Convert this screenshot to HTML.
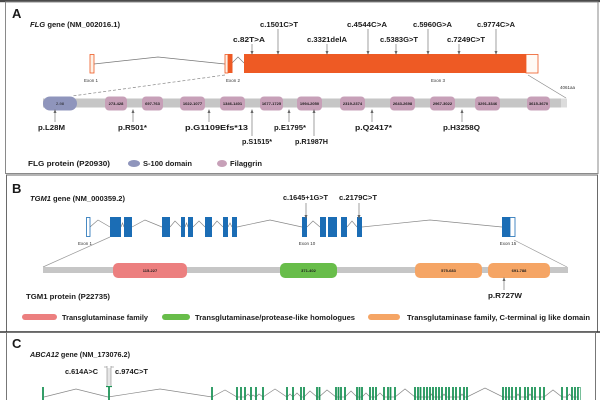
<!DOCTYPE html>
<html><head><meta charset="utf-8"><style>
html,body{margin:0;padding:0;background:#fff;}
svg{display:block;}
text{font-family:"Liberation Sans",Arial,sans-serif;font-weight:bold;fill:#1a1a1a;}
.t{font-size:7.5px;}
.s{font-size:4.5px;font-weight:normal;fill:#333;}
.d{font-size:4px;font-weight:normal;}
.arr{stroke:#777;stroke-width:0.7;fill:none;}
</style></head><body>
<svg width="600" height="400" viewBox="0 0 600 400" xmlns="http://www.w3.org/2000/svg">
<defs>
<marker id="ah" markerWidth="4" markerHeight="4" refX="2" refY="2" orient="auto" markerUnits="userSpaceOnUse">
<path d="M0,0.5 L4,2 L0,3.5 z" fill="#666"/></marker>
</defs>
<rect x="0" y="0" width="600" height="400" fill="#fff"/>
<!-- panel borders -->
<rect x="0" y="0" width="600" height="2.2" fill="#4a4a4a"/>
<rect x="5.5" y="2" width="592.5" height="171.5" fill="none" stroke="#8a8a8a" stroke-width="1"/>
<rect x="6.5" y="175" width="591" height="157" fill="none" stroke="#6a6a6a" stroke-width="1"/>
<line x1="0" y1="332" x2="600" y2="332" stroke="#333" stroke-width="1.4"/>
<rect x="6.5" y="332.5" width="589" height="70" fill="none" stroke="#777" stroke-width="1"/>

<!-- ============ PANEL A ============ -->
<text x="12" y="18" style="font-size:13px">A</text>
<text x="30" y="27" class="t" textLength="90" lengthAdjust="spacingAndGlyphs"><tspan font-style="italic">FLG</tspan> gene (NM_002016.1)</text>

<!-- gene -->
<polyline points="94,64 158,57 225,64" fill="none" stroke="#777" stroke-width="0.7"/>
<polyline points="232,63 238,57 244,63" fill="none" stroke="#777" stroke-width="0.7"/>
<rect x="90" y="54.5" width="4" height="18.5" fill="#fdf1e6" stroke="#ee5a24" stroke-width="0.8"/>
<rect x="225" y="54.5" width="3" height="18.5" fill="#fdf1e6" stroke="#ee5a24" stroke-width="0.8"/>
<rect x="228" y="54" width="4.5" height="19" fill="#ee5a24"/>
<rect x="244" y="54" width="282" height="19" fill="#ee5a24"/>
<rect x="526" y="54.5" width="12" height="18.5" fill="#fffaf5" stroke="#ee5a24" stroke-width="0.8"/>
<text x="91" y="82" class="s" text-anchor="middle">Exon 1</text>
<text x="233" y="82" class="s" text-anchor="middle">Exon 2</text>
<text x="438" y="82" class="s" text-anchor="middle">Exon 3</text>
<text x="560" y="89" class="s">4061aa</text>

<!-- gene mutations -->
<text x="260" y="27" class="t" textLength="38" lengthAdjust="spacingAndGlyphs">c.1501C&gt;T</text>
<text x="233" y="42" class="t" textLength="32" lengthAdjust="spacingAndGlyphs">c.82T&gt;A</text>
<text x="307" y="42" class="t" textLength="40" lengthAdjust="spacingAndGlyphs">c.3321delA</text>
<text x="347" y="27" class="t" textLength="40" lengthAdjust="spacingAndGlyphs">c.4544C&gt;A</text>
<text x="380" y="42" class="t" textLength="38" lengthAdjust="spacingAndGlyphs">c.5383G&gt;T</text>
<text x="413" y="27" class="t" textLength="39" lengthAdjust="spacingAndGlyphs">c.5960G&gt;A</text>
<text x="447" y="42" class="t" textLength="38" lengthAdjust="spacingAndGlyphs">c.7249C&gt;T</text>
<text x="477" y="27" class="t" textLength="38" lengthAdjust="spacingAndGlyphs">c.9774C&gt;A</text>
<line x1="278" y1="29" x2="278" y2="53" class="arr" marker-end="url(#ah)"/>
<line x1="252" y1="44" x2="252" y2="53" class="arr" marker-end="url(#ah)"/>
<line x1="327" y1="44" x2="327" y2="53" class="arr" marker-end="url(#ah)"/>
<line x1="368" y1="29" x2="368" y2="53" class="arr" marker-end="url(#ah)"/>
<line x1="396" y1="44" x2="396" y2="53" class="arr" marker-end="url(#ah)"/>
<line x1="428" y1="29" x2="428" y2="53" class="arr" marker-end="url(#ah)"/>
<line x1="459" y1="44" x2="459" y2="53" class="arr" marker-end="url(#ah)"/>
<line x1="496" y1="29" x2="496" y2="53" class="arr" marker-end="url(#ah)"/>

<!-- connectors gene->protein -->
<line x1="225" y1="75" x2="72" y2="96" stroke="#888" stroke-width="0.7" stroke-dasharray="3,2"/>
<line x1="528" y1="75" x2="566" y2="98" stroke="#888" stroke-width="0.7"/>

<!-- protein A -->
<rect x="43" y="98.5" width="518" height="9" fill="#c6c6c6"/>
<rect x="561" y="98.5" width="6" height="9" fill="#dcdcdc"/>
<rect x="43" y="96.5" width="34" height="14" rx="7" fill="#8f95bc"/>
<text x="60" y="105" class="d" text-anchor="middle" fill="#223">2-98</text>
<g fill="#c7a0b8">
<rect x="105" y="96.5" width="22" height="14" rx="4"/>
<rect x="142" y="96.5" width="21" height="14" rx="4"/>
<rect x="180" y="96.5" width="25" height="14" rx="4"/>
<rect x="220" y="96.5" width="25" height="14" rx="4"/>
<rect x="260" y="96.5" width="23" height="14" rx="4"/>
<rect x="297" y="96.5" width="25" height="14" rx="4"/>
<rect x="340" y="96.5" width="25" height="14" rx="4"/>
<rect x="390" y="96.5" width="25" height="14" rx="4"/>
<rect x="430" y="96.5" width="25" height="14" rx="4"/>
<rect x="475" y="96.5" width="25" height="14" rx="4"/>
<rect x="527" y="96.5" width="23" height="14" rx="4"/>
</g>
<g text-anchor="middle" style="font-size:4px;font-weight:normal;fill:#5a2148">
<text x="116" y="105">273-428</text>
<text x="152.5" y="105">697-763</text>
<text x="192.5" y="105">1022-1077</text>
<text x="232.5" y="105">1346-1401</text>
<text x="271.5" y="105">1677-1725</text>
<text x="309.5" y="105">1994-2050</text>
<text x="352.5" y="105">2319-2374</text>
<text x="402.5" y="105">2643-2698</text>
<text x="442.5" y="105">2967-3022</text>
<text x="487.5" y="105">3291-3346</text>
<text x="538.5" y="105">3615-3670</text>
</g>

<!-- protein mutations -->
<line x1="55" y1="122" x2="55" y2="111" class="arr" marker-end="url(#ah)"/>
<line x1="133" y1="122" x2="133" y2="111" class="arr" marker-end="url(#ah)"/>
<line x1="209" y1="122" x2="209" y2="111" class="arr" marker-end="url(#ah)"/>
<line x1="252" y1="136" x2="252" y2="111" class="arr" marker-end="url(#ah)"/>
<line x1="289" y1="122" x2="289" y2="111" class="arr" marker-end="url(#ah)"/>
<line x1="314" y1="136" x2="314" y2="111" class="arr" marker-end="url(#ah)"/>
<line x1="372" y1="122" x2="372" y2="111" class="arr" marker-end="url(#ah)"/>
<line x1="462" y1="122" x2="462" y2="111" class="arr" marker-end="url(#ah)"/>
<text x="38" y="130" class="t" textLength="27" lengthAdjust="spacingAndGlyphs">p.L28M</text>
<text x="118" y="130" class="t" textLength="29" lengthAdjust="spacingAndGlyphs">p.R501*</text>
<text x="185" y="130" class="t" textLength="63" lengthAdjust="spacingAndGlyphs">p.G1109Efs*13</text>
<text x="242" y="144" class="t" textLength="30" lengthAdjust="spacingAndGlyphs">p.S1515*</text>
<text x="274" y="130" class="t" textLength="32" lengthAdjust="spacingAndGlyphs">p.E1795*</text>
<text x="295" y="144" class="t" textLength="33" lengthAdjust="spacingAndGlyphs">p.R1987H</text>
<text x="355" y="130" class="t" textLength="37" lengthAdjust="spacingAndGlyphs">p.Q2417*</text>
<text x="443" y="130" class="t" textLength="37" lengthAdjust="spacingAndGlyphs">p.H3258Q</text>

<!-- legend A -->
<text x="28" y="166" class="t" textLength="82" lengthAdjust="spacingAndGlyphs">FLG protein (P20930)</text>
<ellipse cx="134" cy="163.5" rx="6" ry="3.5" fill="#8f95bc"/>
<text x="143" y="166" class="t" textLength="49" lengthAdjust="spacingAndGlyphs">S-100 domain</text>
<ellipse cx="222" cy="163.5" rx="5" ry="3.5" fill="#c7a0b8"/>
<text x="230" y="166" class="t" textLength="32" lengthAdjust="spacingAndGlyphs">Filaggrin</text>

<!-- ============ PANEL B ============ -->
<text x="12" y="193" style="font-size:13px">B</text>
<text x="30" y="201" class="t" textLength="95" lengthAdjust="spacingAndGlyphs"><tspan font-style="italic">TGM1</tspan> gene (NM_000359.2)</text>

<g fill="none" stroke="#888" stroke-width="0.7">
<polyline points="90,227 98,220 110,227"/>
<polyline points="121,227 122.5,223 124,227"/>
<polyline points="132,227 145,220 162,227"/>
<polyline points="170,227 175,221 181,227"/>
<polyline points="185,227 186.5,223 188,227"/>
<polyline points="193,227 199,221 205,227"/>
<polyline points="212,227 217,221 223,227"/>
<polyline points="228,227 230,223 232,227"/>
<polyline points="237,227 270,220 302,227"/>
<polyline points="307,227 313,221 320,227"/>
<polyline points="347,227 352,221 357,227"/>
<polyline points="362,227 430,220 502,227"/>
</g>
<g fill="#1b6db5">
<rect x="110" y="217" width="11" height="20"/>
<rect x="124" y="217" width="8" height="20"/>
<rect x="162" y="217" width="8" height="20"/>
<rect x="181" y="217" width="4" height="20"/>
<rect x="188" y="217" width="5" height="20"/>
<rect x="205" y="217" width="7" height="20"/>
<rect x="223" y="217" width="5" height="20"/>
<rect x="232" y="217" width="5" height="20"/>
<rect x="302" y="217" width="5" height="20"/>
<rect x="320" y="217" width="6" height="20"/>
<rect x="328" y="217" width="9" height="20"/>
<rect x="341" y="217" width="6" height="20"/>
<rect x="357" y="217" width="5" height="20"/>
<rect x="502" y="217" width="8" height="20"/>
</g>
<rect x="86.5" y="217.5" width="3.5" height="19" fill="#fff" stroke="#1b6db5" stroke-width="0.8"/>
<rect x="510" y="217.5" width="5" height="19" fill="#fff" stroke="#1b6db5" stroke-width="0.8"/>
<text x="85" y="245" class="s" text-anchor="middle">Exon 1</text>
<text x="307" y="245" class="s" text-anchor="middle">Exon 10</text>
<text x="508" y="245" class="s" text-anchor="middle">Exon 15</text>

<text x="283" y="200" class="t" textLength="45" lengthAdjust="spacingAndGlyphs">c.1645+1G&gt;T</text>
<text x="339" y="200" class="t" textLength="38" lengthAdjust="spacingAndGlyphs">c.2179C&gt;T</text>
<line x1="306" y1="203" x2="306" y2="217" class="arr" marker-end="url(#ah)"/>
<line x1="359" y1="203" x2="359" y2="217" class="arr" marker-end="url(#ah)"/>

<line x1="110" y1="237" x2="43" y2="267" stroke="#999" stroke-width="0.7"/>
<line x1="514" y1="240" x2="567" y2="267" stroke="#999" stroke-width="0.7"/>

<rect x="43" y="267" width="525" height="6" fill="#c6c6c6"/>
<rect x="113" y="263" width="74" height="15" rx="5" fill="#ec7f7f"/>
<rect x="280" y="263" width="57" height="15" rx="5" fill="#68bd4a"/>
<rect x="415" y="263" width="67" height="15" rx="5" fill="#f5a565"/>
<rect x="488" y="263" width="62" height="15" rx="5" fill="#f5a565"/>
<g style="font-size:4px;font-weight:normal;fill:#3a1a1a" text-anchor="middle">
<text x="150" y="272">115-227</text>
<text x="308.5" y="272">371-402</text>
<text x="448.5" y="272">575-683</text>
<text x="519" y="272">691-788</text>
</g>
<line x1="504" y1="290" x2="504" y2="279" class="arr" marker-end="url(#ah)"/>
<text x="488" y="298" class="t" textLength="34" lengthAdjust="spacingAndGlyphs">p.R727W</text>
<text x="26" y="299" class="t" textLength="84" lengthAdjust="spacingAndGlyphs">TGM1 protein (P22735)</text>

<rect x="22" y="314" width="35" height="6" rx="3" fill="#ec7f7f"/>
<text x="62" y="320" class="t" textLength="86" lengthAdjust="spacingAndGlyphs">Transglutaminase family</text>
<rect x="162" y="314" width="28" height="6" rx="3" fill="#68bd4a"/>
<text x="195" y="320" class="t" textLength="160" lengthAdjust="spacingAndGlyphs">Transglutaminase/protease-like homologues</text>
<rect x="368" y="314" width="32" height="6" rx="3" fill="#f5a565"/>
<text x="407" y="320" class="t" textLength="183" lengthAdjust="spacingAndGlyphs">Transglutaminase family, C-terminal ig like domain</text>

<!-- ============ PANEL C ============ -->
<text x="12" y="348" style="font-size:13px">C</text>
<text x="30" y="357" class="t" textLength="100" lengthAdjust="spacingAndGlyphs"><tspan font-style="italic">ABCA12</tspan> gene (NM_173076.2)</text>
<text x="65" y="374" class="t" textLength="33" lengthAdjust="spacingAndGlyphs">c.614A&gt;C</text>
<text x="115" y="374" class="t" textLength="33" lengthAdjust="spacingAndGlyphs">c.974C&gt;T</text>
<rect x="107" y="368" width="4" height="17" fill="#e6e6e6"/>
<line x1="107" y1="366" x2="107" y2="386" stroke="#888" stroke-width="0.6"/>
<line x1="111" y1="366" x2="111" y2="386" stroke="#888" stroke-width="0.6"/>
<line x1="104" y1="367" x2="107" y2="367" stroke="#888" stroke-width="0.6"/>
<line x1="111" y1="367" x2="114" y2="367" stroke="#888" stroke-width="0.6"/>

<polyline fill="none" stroke="#888" stroke-width="0.7" points="44,397 76,389 108,397 160,389 212,397 225,390 237,397 241,397 245,397 248,394 251,397 253,395 256,397 259,394 263,397 275,389 287,397 290,394 293,397 297,393 301,397 304,397 310,391 317,397 319,397 327,390 336,397 341,397 345,397 351,391 357,397 362,397 366,393 370,397 376,397 380,393 384,397 395,397 405,389 415,397 430,397 431.5,394 433,397 442,397 444,394 446,397 460,397 462,394 464,397 467,397 485,388 503,397 516,397 518,394 520,397 528,397 530,394 532,397 544,397 553,390 562,397 567,397 569.5,394 572,397 578,397"/>
<g stroke="#1e9458" stroke-width="1.8">
<line x1="43" y1="387" x2="43" y2="400"/>
<line x1="109" y1="386" x2="109" y2="400"/>
<line x1="106" y1="386.5" x2="112" y2="386.5" stroke-width="1.2"/>
<line x1="212" y1="387" x2="212" y2="400"/>
<line x1="237" y1="387" x2="237" y2="400"/>
<line x1="241" y1="387" x2="241" y2="400"/>
<line x1="245" y1="387" x2="245" y2="400"/>
<line x1="251" y1="387" x2="251" y2="400"/>
<line x1="256" y1="387" x2="256" y2="400"/>
<line x1="263" y1="387" x2="263" y2="400"/>
<line x1="287" y1="387" x2="287" y2="400"/>
<line x1="293" y1="387" x2="293" y2="400"/>
<line x1="301" y1="387" x2="301" y2="400"/>
<line x1="304" y1="387" x2="304" y2="400"/>
<line x1="317" y1="387" x2="317" y2="400"/>
<line x1="319.5" y1="387" x2="319.5" y2="400"/>
<line x1="336" y1="387" x2="336" y2="400"/>
<line x1="338.5" y1="387" x2="338.5" y2="400"/>
<line x1="341" y1="387" x2="341" y2="400"/>
<line x1="345" y1="387" x2="345" y2="400"/>
<line x1="357" y1="387" x2="357" y2="400"/>
<line x1="359.5" y1="387" x2="359.5" y2="400"/>
<line x1="362" y1="387" x2="362" y2="400"/>
<line x1="370" y1="387" x2="370" y2="400"/>
<line x1="373" y1="387" x2="373" y2="400"/>
<line x1="376" y1="387" x2="376" y2="400"/>
<line x1="384" y1="387" x2="384" y2="400"/>
<line x1="388" y1="387" x2="388" y2="400"/>
<line x1="390.5" y1="387" x2="390.5" y2="400"/>
<line x1="395" y1="387" x2="395" y2="400"/>
<line x1="415" y1="387" x2="415" y2="400"/>
<line x1="418" y1="387" x2="418" y2="400"/>
<line x1="420.5" y1="387" x2="420.5" y2="400"/>
<line x1="424" y1="387" x2="424" y2="400"/>
<line x1="427" y1="387" x2="427" y2="400"/>
<line x1="430" y1="387" x2="430" y2="400"/>
<line x1="433" y1="387" x2="433" y2="400"/>
<line x1="436" y1="387" x2="436" y2="400"/>
<line x1="439" y1="387" x2="439" y2="400"/>
<line x1="442" y1="387" x2="442" y2="400"/>
<line x1="446" y1="387" x2="446" y2="400"/>
<line x1="449" y1="387" x2="449" y2="400"/>
<line x1="453" y1="387" x2="453" y2="400"/>
<line x1="456" y1="387" x2="456" y2="400"/>
<line x1="460" y1="387" x2="460" y2="400"/>
<line x1="464" y1="387" x2="464" y2="400"/>
<line x1="467" y1="387" x2="467" y2="400"/>
<line x1="503" y1="387" x2="503" y2="400"/>
<line x1="506" y1="387" x2="506" y2="400"/>
<line x1="509" y1="387" x2="509" y2="400"/>
<line x1="512" y1="387" x2="512" y2="400"/>
<line x1="516" y1="387" x2="516" y2="400"/>
<line x1="520" y1="387" x2="520" y2="400"/>
<line x1="525" y1="387" x2="525" y2="400"/>
<line x1="528" y1="387" x2="528" y2="400"/>
<line x1="532" y1="387" x2="532" y2="400"/>
<line x1="535" y1="387" x2="535" y2="400"/>
<line x1="540" y1="387" x2="540" y2="400"/>
<line x1="544" y1="387" x2="544" y2="400"/>
<line x1="562" y1="387" x2="562" y2="400"/>
<line x1="567" y1="387" x2="567" y2="400"/>
<line x1="572" y1="387" x2="572" y2="400"/>
<line x1="575" y1="387" x2="575" y2="400"/>
<line x1="578" y1="387" x2="578" y2="400"/>
</g>
<rect x="578.5" y="387.5" width="2" height="13" fill="#fff" stroke="#1e9458" stroke-width="0.6"/>
</svg>
</body></html>
